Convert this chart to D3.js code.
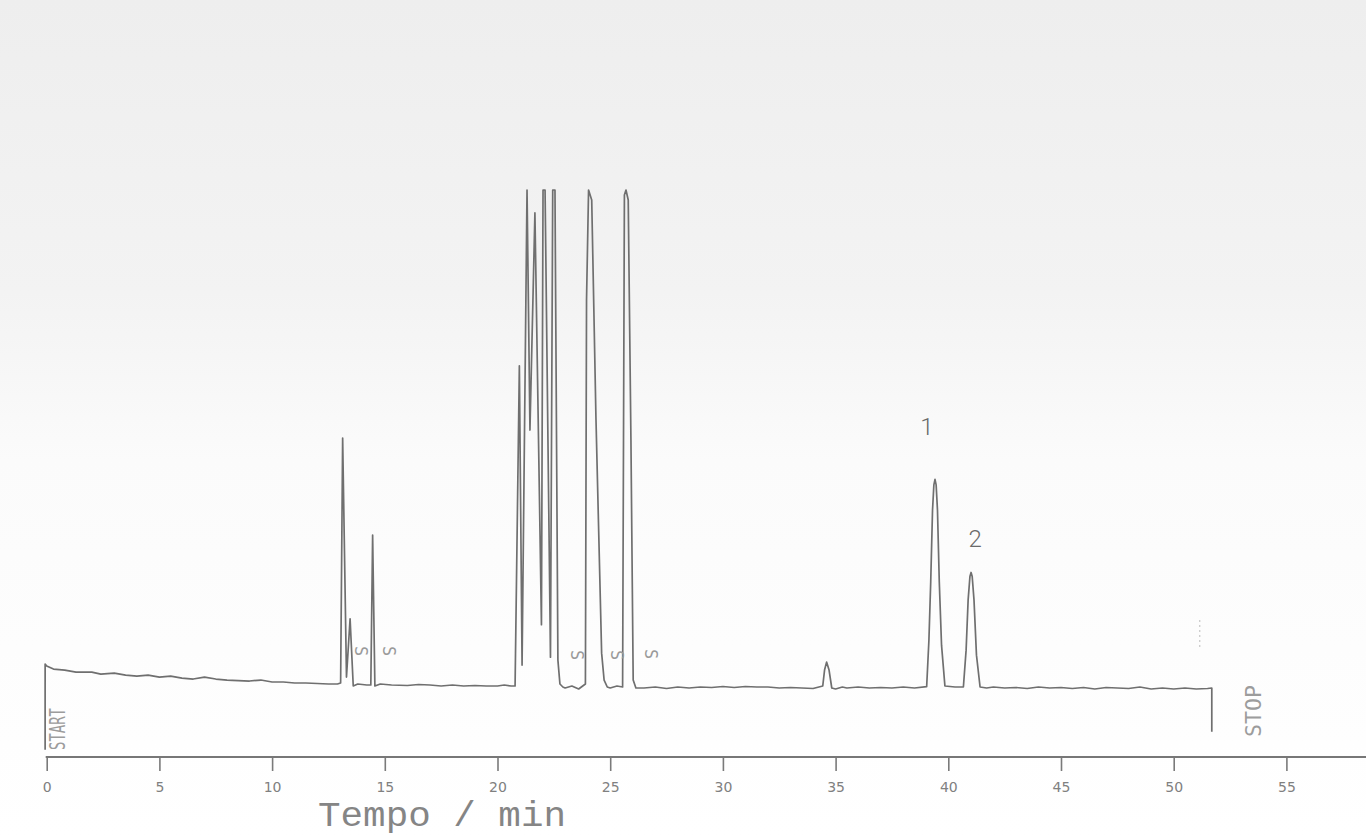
<!DOCTYPE html>
<html>
<head>
<meta charset="utf-8">
<script src="https://cdn.jsdelivr.net/npm/d3@7/dist/d3.min.js"></script>
<style>
  html, body { margin: 0; padding: 0; background: #ffffff; }
  svg { display: block; }
</style>
</head>
<body>
<svg id="chart" width="1366" height="836"></svg>
<script>
// ---------------- DATA ----------------
// Detector trace: retention time (min) and signal (arbitrary units, 100 = recorder full scale)
const traceTime = [
  -0.07, -0.07, 0.0, 0.3, 0.8, 1.3, 2.0, 2.4, 3.0, 3.5, 4.0, 4.5, 5.0, 5.5, 6.0, 6.5, 7.0, 7.5,
  8.0, 8.5, 9.0, 9.5, 10.0, 10.5, 11.0, 11.5, 12.0, 12.5, 12.9,
  13.04, 13.13, 13.30, 13.46, 13.60, 13.8, 14.2,
  14.38, 14.46, 14.56, 14.8, 15.3, 16.0, 16.5, 17.0, 17.5, 18.0, 18.5, 19.0, 19.5, 20.0, 20.3, 20.6,
  20.78, 20.97, 21.09, 21.31, 21.44, 21.66, 21.95, 22.02, 22.11, 22.35, 22.45, 22.55, 22.68, 22.77, 22.9,
  23.0, 23.3, 23.6, 23.9,
  23.95, 24.04, 24.18, 24.37, 24.62, 24.73, 24.87,
  25.0, 25.3, 25.55,
  25.63, 25.70, 25.80, 25.92, 26.02, 26.14,
  26.5, 27.0, 27.5, 28.0, 28.5, 29.0, 29.5, 30.0, 30.5, 31.0, 31.5, 32.0, 32.5, 33.0, 33.5, 34.0, 34.43,
  34.51, 34.60, 34.71, 34.83, 35.0, 35.3,
  35.5, 36.0, 36.5, 37.0, 37.5, 38.0, 38.5, 39.04,
  39.14, 39.22, 39.30, 39.36, 39.41, 39.46, 39.52, 39.60, 39.70, 39.85, 40.3,
  40.67, 40.79, 40.88, 40.96, 41.01, 41.06, 41.14, 41.25, 41.41,
  41.7, 42.0, 42.5, 43.0, 43.5, 44.0, 44.5, 45.0, 45.5, 46.0, 46.5, 47.0, 47.5, 48.0, 48.5, 49.0,
  49.5, 50.0, 50.5, 51.0, 51.5, 51.69, 51.69
];
const traceSignal = [
  -12.4, 4.8, 4.4, 3.8, 3.6, 3.2, 3.2, 2.8, 3.0, 2.6, 2.4, 2.6, 2.2, 2.4, 2.0, 1.8, 2.2, 1.8,
  1.6, 1.5, 1.4, 1.6, 1.2, 1.2, 1.0, 1.0, 0.9, 0.8, 0.8,
  1.0, 50.2, 2.2, 13.9, 0.4, 0.8, 0.6,
  0.6, 30.7, 0.4, 0.8, 0.6, 0.5, 0.7, 0.6, 0.4, 0.6, 0.4, 0.5, 0.4, 0.4, 0.6, 0.4,
  0.4, 64.7, 4.6, 100, 51.8, 95.4, 12.7, 100, 100, 6.2, 100, 100, 5.6, 0.8, 0.2,
  0.0, 0.4, -0.2, 0.8,
  77.9, 100, 98.0, 53.8, 7.0, 1.6, 0.2,
  0.0, 0.4, 0.2,
  99.0, 100, 98.0, 49.8, 1.6, 0.0,
  0.0, 0.2, -0.1, 0.2, 0.0, 0.2, 0.1, 0.3, 0.1, 0.3, 0.2, 0.2, 0.0, 0.1, 0.0, -0.1, 0.4,
  3.6, 5.2, 3.6, 0.0, -0.2, 0.2,
  0.0, 0.2, 0.0, 0.1, 0.0, 0.2, 0.0, 0.26,
  9.6, 21.3, 35.7, 40.8, 41.9, 40.8, 35.7, 21.3, 8.6, 0.4, 0.2,
  0.2, 7.6, 17.7, 22.4, 23.2, 22.4, 17.7, 6.6, 0.2,
  0.0, 0.2, 0.0, 0.1, -0.1, 0.2, 0.0, 0.1, -0.1, 0.1, -0.2, 0.1, 0.0, -0.1, 0.2, -0.2,
  0.0, -0.2, 0.0, -0.2, -0.1, 0.0, -8.8
];

// Axis
const tickValues = [0, 5, 10, 15, 20, 25, 30, 35, 40, 45, 50, 55];
const axisTitle = "Tempo / min";

// Numbered peaks
const peakNames = ["1", "2"];
const peakTimes = [39.41, 41.01];
const peakHeights = [41.9, 23.2];

// Integrator "S" baseline marks
const markTimes = [13.95, 15.19, 23.53, 25.30, 26.81];
const markSignals = [7.4, 7.4, 6.6, 6.6, 6.8];

// Integrator run events
const eventNames = ["START", "STOP"];
const eventTimes = [-0.07, 51.69];

// ---------------- DRAWING ----------------
const svg = d3.select("#chart");
const W = 1366, H = 836;

// faint scanned-paper tone in the upper part
const defs = svg.append("defs");
const grad = defs.append("linearGradient").attr("id", "paper")
  .attr("x1", 0).attr("y1", 0).attr("x2", 0).attr("y2", 1);
grad.append("stop").attr("offset", "0%").attr("stop-color", "#eeeeee");
grad.append("stop").attr("offset", "35%").attr("stop-color", "#f3f3f3");
grad.append("stop").attr("offset", "55%").attr("stop-color", "#fbfbfb");
grad.append("stop").attr("offset", "100%").attr("stop-color", "#ffffff");
svg.append("rect").attr("x", 0).attr("y", 0).attr("width", W).attr("height", H)
  .attr("fill", "url(#paper)");

const x = d3.scaleLinear().domain([0, 55]).range([46.7, 1286.4]);
const y = d3.scaleLinear().domain([0, 100]).range([688, 190]);

const ink = "#6f6f6f";

// x axis
const axisY = 757;
const axis = d3.axisBottom(x).tickValues(tickValues).tickSize(14).tickSizeOuter(0).tickPadding(11);
const gx = svg.append("g").attr("transform", `translate(0,${axisY})`).call(axis);
gx.select(".domain").remove();
gx.append("line")
  .attr("x1", x(0) - 1).attr("x2", W).attr("y1", 0).attr("y2", 0)
  .attr("stroke", "#777").attr("stroke-width", 2);
gx.selectAll(".tick line").attr("stroke", "#7a7a7a").attr("stroke-width", 1.6);
gx.selectAll(".tick text")
  .attr("fill", "#808080")
  .style("font-family", "'DejaVu Sans', sans-serif")
  .style("font-size", "14px");

// axis title
svg.append("text")
  .attr("x", 442).attr("y", 826)
  .attr("text-anchor", "middle")
  .attr("fill", "#858585")
  .attr("textLength", 248)
  .attr("lengthAdjust", "spacingAndGlyphs")
  .style("font-family", "'Liberation Mono', 'Courier New', monospace")
  .style("font-size", "35px")
  .text(axisTitle);

// trace
const pts = traceTime.map((t, i) => [t, traceSignal[i]]);
svg.append("path")
  .datum(pts)
  .attr("d", d3.line().x(d => x(d[0])).y(d => y(d[1])))
  .attr("fill", "none")
  .attr("stroke", ink)
  .attr("stroke-width", 1.7)
  .attr("stroke-linejoin", "round");

// peak numbers
svg.selectAll("text.peak")
  .data(peakNames)
  .join("text")
  .attr("class", "peak")
  .attr("x", (d, i) => x(peakTimes[i]) + (i === 0 ? -8 : 4))
  .attr("y", (d, i) => y(peakHeights[i]) + (i === 0 ? -44 : -25))
  .attr("text-anchor", "middle")
  .attr("fill", "#6a6a6a")
  .style("font-family", "Roboto, 'DejaVu Sans', sans-serif")
  .style("font-weight", 300)
  .style("font-size", "24px")
  .text(d => d);

// "S" marks (printed sideways)
svg.selectAll("text.mark")
  .data(markTimes)
  .join("text")
  .attr("class", "mark")
  .attr("transform", (d, i) => `translate(${x(d)},${y(markSignals[i])}) rotate(90)`)
  .attr("text-anchor", "middle")
  .attr("dy", "0.35em")
  .attr("fill", "#9a9a9a")
  .style("font-family", "'DejaVu Sans Mono', monospace")
  .style("font-size", "17px")
  .text("S");

// START / STOP events
const eventX = [x(eventTimes[0]) + 12, x(eventTimes[1]) + 42];
const eventY = [729, 711];
const eventLen = [42, 52];
svg.selectAll("text.event")
  .data(eventNames)
  .join("text")
  .attr("class", "event")
  .attr("transform", (d, i) => `translate(${eventX[i]},${eventY[i]}) rotate(-90)`)
  .attr("text-anchor", "middle")
  .attr("dy", "0.35em")
  .attr("fill", "#9c9c9c")
  .attr("textLength", (d, i) => eventLen[i])
  .attr("lengthAdjust", "spacingAndGlyphs")
  .style("font-family", "'DejaVu Sans Mono', monospace")
  .style("font-size", "22px")
  .text(d => d);

// faint dotted event tick above the stop
svg.append("line")
  .attr("x1", x(eventTimes[1]) - 12).attr("x2", x(eventTimes[1]) - 12)
  .attr("y1", 620).attr("y2", 650)
  .attr("stroke", "#bbb").attr("stroke-width", 1).attr("stroke-dasharray", "2,3");
</script>
</body>
</html>
